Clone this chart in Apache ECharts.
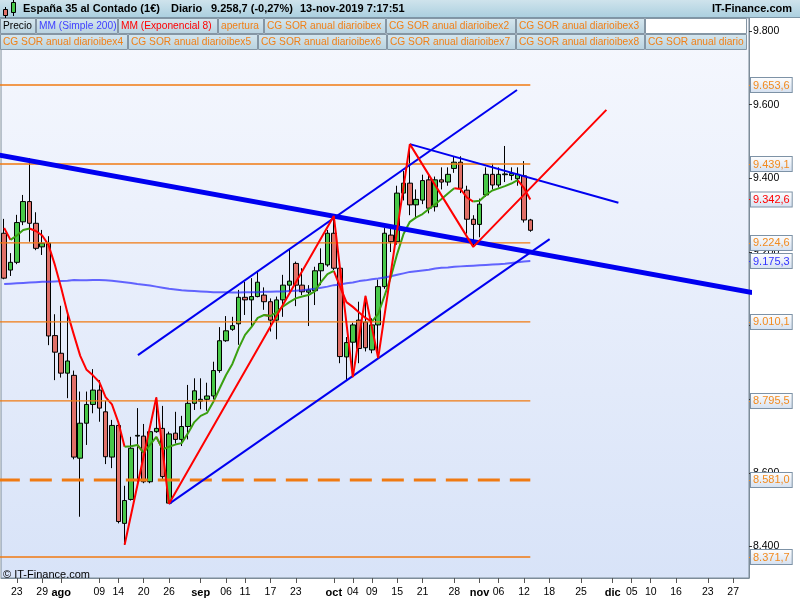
<!DOCTYPE html>
<html><head><meta charset="utf-8">
<script src="https://cdn.jsdelivr.net/npm/echarts@6/dist/echarts.min.js"></script>
<style>html,body{margin:0;padding:0;background:#fff}#c{width:800px;height:600px}</style>
</head><body><div id="c"></div>
<script>
// ---------- DATA ----------
const firstDay = '2019-07-19';
const lastDay = '2019-12-31';
const tickLabels = [
  ['2019-07-23','23'],['2019-07-29','29'],['2019-08-01','ago'],['2019-08-09','09'],['2019-08-14','14'],
  ['2019-08-20','20'],['2019-08-26','26'],['2019-09-02','sep'],['2019-09-06','06'],['2019-09-11','11'],
  ['2019-09-17','17'],['2019-09-23','23'],['2019-10-01','oct'],['2019-10-04','04'],['2019-10-09','09'],
  ['2019-10-15','15'],['2019-10-21','21'],['2019-10-28','28'],['2019-11-01','nov'],['2019-11-06','06'],
  ['2019-11-12','12'],['2019-11-18','18'],['2019-11-25','25'],['2019-12-02','dic'],['2019-12-05','05'],
  ['2019-12-10','10'],['2019-12-16','16'],['2019-12-23','23'],['2019-12-27','27']
];
const monthNames = ['ago','sep','oct','nov','dic'];
// [open, close, low, high]
const ohlc = [
  [9251,9129,9126,9290],[9151,9172,9135,9197],[9172,9280,9167,9301],[9282,9337,9273,9355],
  [9337,9278,9228,9455],[9278,9210,9205,9308],[9214,9224,9192,9260],[9224,8972,8947,9243],
  [8973,8928,8852,9031],[8925,8871,8859,9054],[8871,8904,8803,9034],[8865,8643,8637,8878],
  [8640,8735,8481,8821],[8735,8786,8676,8821],[8786,8825,8762,8882],[8825,8776,8739,8852],
  [8766,8644,8624,8796],[8643,8729,8613,8744],[8729,8468,8463,8735],[8463,8525,8405,8565],
  [8528,8667,8525,8698],[8700,8702,8573,8776],[8700,8576,8572,8733],[8576,8712,8572,8714],
  [8712,8721,8709,8805],[8721,8590,8581,8782],[8518,8706,8516,8712],[8708,8691,8680,8766],
  [8691,8726,8673,8755],[8726,8789,8691,8839],[8789,8823,8771,8857],[8795,8800,8773,8857],
  [8800,8809,8769,8845],[8809,8878,8800,8902],[8878,8959,8872,8996],[8959,8986,8956,9026],
  [8990,9000,8986,9024],[9005,9077,8948,9097],[9077,9070,9029,9119],[9070,9079,8996,9129],
  [9079,9118,9077,9149],[9083,9065,9043,9104],[9065,9015,8984,9074],[9015,9070,8963,9079],
  [9070,9110,9024,9138],[9110,9121,9086,9206],[9169,9110,9053,9174],[9110,9092,9083,9156],
  [9091,9097,8999,9110],[9095,9149,9056,9160],[9149,9169,9110,9210],[9165,9251,9160,9260],
  [9251,9156,9151,9298],[9156,8916,8898,9157],[8915,8954,8850,8969],[8955,9002,8860,9008],
  [9015,8938,8898,9065],[9010,8940,8930,9081],[8934,9002,8925,9020],[9002,9106,8912,9125],
  [9106,9251,9100,9265],[9246,9228,9200,9270],[9228,9360,9220,9380],[9360,9387,9340,9420],
  [9387,9328,9300,9493],[9328,9343,9290,9370],[9341,9394,9330,9410],[9396,9319,9305,9410],
  [9323,9396,9310,9405],[9396,9390,9370,9430],[9390,9411,9380,9430],[9427,9444,9415,9460],
  [9444,9373,9360,9460],[9368,9289,9250,9380],[9289,9275,9214,9300],[9275,9330,9240,9345],
  [9355,9411,9350,9430],[9411,9382,9370,9440],[9382,9411,9375,9430],[9410,9412,9390,9488],
  [9408,9413,9395,9430],[9399,9411,9380,9430],[9407,9287,9280,9447],[9287,9259,9255,9290]
];
const sma200 = [
  9113,9114,9115,9116,9117,9118,9119,9119,9120,9121,9122,9124,9123,9123,9124,9124,9123,9122,9120,9118,
  9116,9113,9111,9109,9106,9103,9100,9098,9096,9095,9094,9093,9092,9091,9091,9091,9090,9090,9091,9091,
  9091,9092,9092,9093,9093,9094,9095,9096,9098,9100,9103,9106,9110,9112,9115,9117,9121,9123,9126,9128,
  9131,9134,9138,9142,9146,9148,9150,9152,9155,9157,9158,9160,9161,9162,9163,9164,9165,9166,9167,9168,
  9170,9172,9174,9175.3
];
const ema8 = [
  9265,9233,9245,9260,9264,9257,9245,9219,9165,9102,9034,8975,8918,8880,8865,8847,8806,8786,8738,8671,
  8672.5,8676,8655,8676,8698,8664,8671,8677,8681,8708,8738,8755,8763,8793,8830,8866,8896,8939,8975,8996,
  9021,9029,9026,9037,9052,9064,9074,9079,9083,9093,9119,9140,9149,9105,9064,9051,9036,9021,9011,9032,
  9081,9132,9195,9249,9282,9294,9303,9317,9330,9344,9359,9373,9371,9348,9337,9339,9355,9367,9373,9379,
  9386,9395,9374,9342.6
];
// zigzag pivots [day index, price]
const zigzag = [[19,8405],[24,8805],[26,8516],[52,9298],[55,8860],[57,9081],[59,8912],[64,9493],[74,9214],[95,9586]];
// trend lines [day index, price]
const trendThick = [[-1,9464],[118,9090]];
const channelUpper = [[21.1,8920],[80.9,9640]];
const channelLower = [[26,8516],[86.05,9235]];
const trendDown = [[64,9493],[96.9,9334]];
// horizontal levels
const levels = [9653.6, 9439.1, 9224.6, 9010.1, 8795.5, 8581.0, 8371.7];
const dashedLevel = 8581.0;
const levelsFrom = -1, levelsTo = 83;
const axisTicks = [8400, 8600, 8800, 9000, 9200, 9400, 9600, 9800];
const emaLast = 9342.6, smaLast = 9175.3;
const yMin = 8314.6, yMax = 9835.6;
const legendRow1 = [['Precio','#000000'],['MM (Simple 200)','#4040ff'],['MM (Exponencial 8)','#ff0000'],['apertura','#f08018'],
  ['CG SOR anual diarioibex','#f08018'],['CG SOR anual diarioibex2','#f08018'],['CG SOR anual diarioibex3','#f08018'],['','#000']];
const legendRow2 = [['CG SOR anual diarioibex4','#f08018'],['CG SOR anual diarioibex5','#f08018'],['CG SOR anual diarioibex6','#f08018'],
  ['CG SOR anual diarioibex7','#f08018'],['CG SOR anual diarioibex8','#f08018'],['CG SOR anual diarioibex9','#f08018']];

// ---------- BUILD ----------
const days = [];
for (let d = new Date(firstDay + 'T12:00:00Z'); d <= new Date(lastDay + 'T12:00:00Z'); d.setUTCDate(d.getUTCDate() + 1)) {
  const w = d.getUTCDay();
  if (w !== 0 && w !== 6) days.push(d.toISOString().slice(0, 10));
}
const tickMap = new Map(tickLabels);
const N = days.length;

const emaRed = ema8.map(() => null), emaGreen = ema8.map(() => null);
for (let i = 0; i < ema8.length - 1; i++) {
  const t = ema8[i + 1] < ema8[i] ? emaRed : emaGreen;
  t[i] = ema8[i]; t[i + 1] = ema8[i + 1];
}

function fmtInt(v) { return String(Math.round(v)).replace(/\B(?=(\d{3})+(?!\d))/g, '.'); }
function fmtDec(v) {
  const s = v.toFixed(1).split('.');
  return s[0].replace(/\B(?=(\d{3})+(?!\d))/g, '.') + ',' + s[1];
}
const FONT = '"Liberation Sans", Arial, sans-serif';
const ORANGE = '#f28a1e';
const LEVEL_ORANGE = '#f07a12';
const boxGrad = new echarts.graphic.LinearGradient(0, 0, 0, 1, [{offset: 0, color: '#ffffff'}, {offset: 1, color: '#d4e0f0'}]);
function boxStyle(color) {
  return {color: color, fontSize: 11, fontFamily: FONT, backgroundColor: boxGrad, borderColor: '#7d92a6', borderWidth: 1, padding: [2, 2, 1, 2]};
}
function extraAxis(values, color, key) {
  return {
    type: 'value', position: 'right', min: yMin, max: yMax, gridIndex: 0, z: 5,
    axisLine: {show: false, onZero: false}, splitLine: {show: false},
    axisTick: {show: true, customValues: values, length: 3, lineStyle: {color: color}},
    axisLabel: {show: true, customValues: values, margin: 2, formatter: v => '{' + key + '|' + fmtDec(v) + '}',
      rich: {[key]: boxStyle(color)}}
  };
}

const lineSeries = (data, color, width, z, type) => ({
  type: 'line', xAxisIndex: 1, yAxisIndex: 0, data: data, symbol: 'none', z: z, clip: true,
  lineStyle: {color: color, width: width, type: type || 'solid'}, silent: true, animation: false
});

const series = [
  {type: 'candlestick', data: ohlc, xAxisIndex: 0, yAxisIndex: 0, barWidth: 5, z: 2,
   itemStyle: {color: '#48c848', color0: '#e07068', borderColor: '#000', borderColor0: '#000', borderWidth: 1}},
  {type: 'line', data: sma200, xAxisIndex: 0, symbol: 'none', z: 3, lineStyle: {color: 'rgba(40,40,255,0.7)', width: 2}},
  {type: 'line', data: emaRed, xAxisIndex: 0, symbol: 'none', z: 4, lineStyle: {color: '#ff0000', width: 2}},
  {type: 'line', data: emaGreen, xAxisIndex: 0, symbol: 'none', z: 4, lineStyle: {color: '#3aa010', width: 2}}
];
levels.forEach(l => {
  if (l === dashedLevel) series.push(lineSeries([[levelsFrom, l], [levelsTo, l]], LEVEL_ORANGE, 3, 5, [22, 10]));
  else series.push(lineSeries([[levelsFrom, l], [levelsTo, l]], LEVEL_ORANGE, 1.3, 5));
});
series.push(lineSeries(trendThick, '#0000f0', 5, 6));
series.push(lineSeries(channelUpper, '#0000f0', 2, 6));
series.push(lineSeries(channelLower, '#0000f0', 2, 6));
series.push(lineSeries(trendDown, '#0000f0', 2, 6));
series.push(lineSeries(zigzag, '#ff0000', 2, 7));

// header graphics
const barGrad = new echarts.graphic.LinearGradient(0, 0, 0, 1, [{offset: 0, color: '#cfe3ec'}, {offset: 1, color: '#aacfdf'}]);
const legGrad = new echarts.graphic.LinearGradient(0, 0, 0, 1, [{offset: 0, color: '#d6e7ef'}, {offset: 1, color: '#b8d2df'}]);
const row1X = [0, 36, 118, 218, 264, 386, 516, 645, 747];
const row2X = [0, 128, 258, 387, 516, 645, 747];
const graphic = [
  {type: 'rect', shape: {x: 0, y: 0, width: 800, height: 18}, style: {fill: barGrad}, z: 100},
  {type: 'line', shape: {x1: 0, y1: 17.5, x2: 800, y2: 17.5}, style: {stroke: '#7e96a6', lineWidth: 1}, z: 101},
  {type: 'line', shape: {x1: 5.5, y1: 7, x2: 5.5, y2: 18}, style: {stroke: '#000', lineWidth: 1}, z: 101},
  {type: 'rect', shape: {x: 3.5, y: 9.5, width: 4, height: 6}, style: {fill: '#e07068', stroke: '#000', lineWidth: 1}, z: 102},
  {type: 'line', shape: {x1: 13.5, y1: 0, x2: 13.5, y2: 16}, style: {stroke: '#000', lineWidth: 1}, z: 101},
  {type: 'rect', shape: {x: 11.5, y: 2.5, width: 4, height: 10}, style: {fill: '#48c848', stroke: '#000', lineWidth: 1}, z: 102},
  {type: 'text', x: 23, y: 9, style: {text: 'España 35 al Contado (1€)', font: 'bold 11px ' + FONT, fill: '#000', textVerticalAlign: 'middle'}, z: 102},
  {type: 'text', x: 171, y: 9, style: {text: 'Diario', font: 'bold 11px ' + FONT, fill: '#000', textVerticalAlign: 'middle'}, z: 102},
  {type: 'text', x: 211, y: 9, style: {text: '9.258,7 (-0,27%)', font: 'bold 11px ' + FONT, fill: '#000', textVerticalAlign: 'middle'}, z: 102},
  {type: 'text', x: 300, y: 9, style: {text: '13-nov-2019 7:17:51', font: 'bold 11px ' + FONT, fill: '#000', textVerticalAlign: 'middle'}, z: 102},
  {type: 'text', x: 792, y: 9, style: {text: 'IT-Finance.com', font: 'bold 11px ' + FONT, fill: '#000', textAlign: 'right', textVerticalAlign: 'middle'}, z: 102},
  {type: 'text', x: 3, y: 575, style: {text: '© IT-Finance.com', font: '11px ' + FONT, fill: '#000', textVerticalAlign: 'middle'}, z: 102}
];
function legendRow(items, xs, y0) {
  items.forEach((it, k) => {
    const x0 = xs[k], x1 = xs[k + 1];
    graphic.push({type: 'rect', shape: {x: x0 + 0.5, y: y0 + 0.5, width: x1 - x0 - 1, height: 15},
      style: {fill: it[0] === '' ? '#ffffff' : legGrad, stroke: '#8596a4', lineWidth: 1}, z: 100});
    if (it[0]) {
      const st = {text: it[0], font: '10.2px ' + FONT, fill: it[1], textVerticalAlign: 'middle'};
      if (x1 >= 747) { st.width = x1 - x0 - 3; st.overflow = 'truncate'; st.ellipsis = ''; }
      graphic.push({type: 'text', x: x0 + 3, y: y0 + 8.5, z: 101, style: st});
    }
  });
}
legendRow(legendRow1, row1X, 18);
legendRow(legendRow2, row2X, 34);

const plotGrad = new echarts.graphic.LinearGradient(0, 0, 0, 1, [{offset: 0, color: '#f6f8fe'}, {offset: 1, color: '#d8e3f8'}]);

const option = {
  animation: false,
  backgroundColor: '#ffffff',
  grid: {left: 1, right: 51, top: 18, bottom: 22, show: true, backgroundColor: plotGrad, borderColor: '#7d8c99', borderWidth: 1},
  xAxis: [
    {type: 'category', data: days, boundaryGap: true,
     axisLine: {show: true, onZero: false, lineStyle: {color: '#7d8c99'}},
     axisTick: {show: true, alignWithLabel: true, length: 5, interval: (i, v) => tickMap.has(v), lineStyle: {color: '#555'}},
     axisLabel: {interval: (i, v) => tickMap.has(v), margin: 9, color: '#000', fontSize: 10.5, fontFamily: FONT,
       formatter: v => { const t = tickMap.get(v); return monthNames.includes(t) ? '{b|' + t + '}' : t; },
       rich: {b: {fontWeight: 'bold', fontSize: 11, fontFamily: FONT, color: '#000'}}},
     splitLine: {show: false}},
    {type: 'value', min: -0.5, max: N - 0.5, show: false, gridIndex: 0, axisLine: {onZero: false}}
  ],
  yAxis: [
    {type: 'value', position: 'right', min: yMin, max: yMax, z: 1,
     axisLine: {show: true, onZero: false, lineStyle: {color: '#7d8c99'}},
     axisTick: {show: true, customValues: axisTicks, length: 3, lineStyle: {color: '#333'}},
     axisLabel: {customValues: axisTicks, margin: 4, color: '#000', fontSize: 10.5, fontFamily: FONT, formatter: v => fmtInt(v)},
     splitLine: {show: false}},
    extraAxis(levels, ORANGE, 'o'),
    extraAxis([emaLast], '#ff0000', 'r'),
    extraAxis([smaLast], '#3333ff', 'b')
  ],
  series: series,
  graphic: graphic
};
const chart = echarts.init(document.getElementById('c'), null, {renderer: 'canvas'});
chart.setOption(option);
</script></body></html>
